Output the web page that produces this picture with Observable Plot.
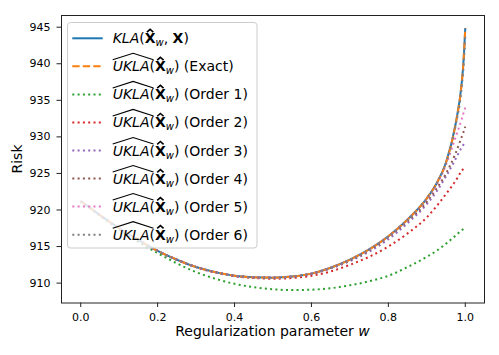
<!DOCTYPE html>
<html><head><meta charset="utf-8">
<script src="https://cdn.jsdelivr.net/npm/d3@7"></script>
<script src="https://cdn.jsdelivr.net/npm/@observablehq/plot@0.6"></script>
<style>
body{margin:0;background:#fff}
#chart svg{display:block}
</style>
</head><body><div id="chart"></div>
<script>
// ---- data ----
const w = [0, 0.05, 0.1, 0.15, 0.2, 0.25, 0.3, 0.35, 0.4, 0.45, 0.5, 0.55, 0.6, 0.65, 0.7, 0.75, 0.8, 0.85, 0.9, 0.925, 0.95, 0.975, 0.99, 0.995, 1.0];
const kla    = [921.2, 919.3, 917.5, 915.9, 914.4, 913.2, 912.2, 911.5, 911.0, 910.8, 910.75, 910.9, 911.3, 912.1, 913.2, 914.6, 916.4, 918.7, 921.6, 923.6, 926.5, 931.8, 937.0, 940.0, 944.9];
const exact  = [921.2, 919.3, 917.5, 915.9, 914.4, 913.2, 912.2, 911.5, 911.0, 910.8, 910.75, 910.9, 911.3, 912.1, 913.2, 914.6, 916.4, 918.7, 921.6, 923.6, 926.5, 931.8, 937.0, 940.0, 944.9];
const order1 = [921.2, 919.2, 917.3, 915.6, 914.1, 912.7, 911.5, 910.6, 909.9, 909.45, 909.15, 909.05, 909.1, 909.3, 909.7, 910.25, 911.0, 912.2, 913.6, 914.4, 915.4, 916.5, 917.2, 917.4, 917.6];
const order2 = [921.2, 919.3, 917.5, 915.9, 914.4, 913.2, 912.2, 911.45, 910.95, 910.7, 910.6, 910.7, 911.0, 911.6, 912.5, 913.6, 915.0, 916.8, 919.0, 920.5, 922.2, 924.0, 925.3, 925.65, 926.0];
const order3 = [921.2, 919.3, 917.5, 915.9, 914.4, 913.2, 912.2, 911.5, 911.0, 910.8, 910.75, 910.85, 911.25, 912.0, 913.0, 914.3, 916.0, 918.2, 920.8, 922.5, 924.6, 927.0, 928.5, 928.9, 929.3];
const order4 = [921.2, 919.3, 917.5, 915.9, 914.4, 913.2, 912.2, 911.5, 911.0, 910.8, 910.75, 910.9, 911.3, 912.1, 913.1, 914.5, 916.3, 918.5, 921.1, 922.9, 925.0, 927.8, 929.9, 930.6, 931.4];
const order5 = [921.2, 919.3, 917.5, 915.9, 914.4, 913.2, 912.2, 911.5, 911.0, 910.8, 910.75, 910.9, 911.3, 912.1, 913.2, 914.6, 916.4, 918.7, 921.5, 923.4, 926.2, 930.0, 932.3, 933.2, 934.0];
const order6 = [921.2, 919.3, 917.5, 915.9, 914.4, 913.2, 912.2, 911.5, 911.0, 910.8, 910.75, 910.9, 911.3, 912.1, 913.2, 914.6, 916.4, 918.7, 921.6, 923.6, 926.5, 931.6, 936.4, 939.3, 943.8];
const orderLabels = ["(Exact)", "(Order 1)", "(Order 2)", "(Order 3)", "(Order 4)", "(Order 5)", "(Order 6)"];
const xTicks = [0, 0.2, 0.4, 0.6, 0.8, 1.0];
const yTicks = [910, 915, 920, 925, 930, 935, 940, 945];
const xLabel = "Regularization parameter ";
const yLabel = "Risk";

// ---- styles ----
const seriesValues = [kla, exact, order1, order2, order3, order4, order5, order6];
const colors = ["#1f77b4", "#ff7f0e", "#2ca02c", "#d62728", "#9467bd", "#8c564b", "#e377c2", "#7f7f7f"];
const dashFor = i => i === 0 ? null : (i === 1 ? "7.3,3.2" : "2,3.3");
const FONT = "'DejaVu Sans', sans-serif";

const marks = seriesValues.map((vals, i) => Plot.line(w.map((x, j) => ({x, y: vals[j]})), {
  x: "x", y: "y", stroke: colors[i], strokeWidth: 2,
  strokeDasharray: dashFor(i), strokeLinecap: "butt", strokeLinejoin: "round",
  curve: "monotone-x"
}));

const chart = Plot.plot({
  width: 499, height: 355,
  marginLeft: 61, marginRight: 15, marginTop: 15, marginBottom: 52.5,
  style: {fontFamily: FONT, fontSize: "11px", color: "#000", background: "#fff"},
  x: {domain: [-0.05, 1.05]},
  y: {domain: [907.28, 946.6]},
  marks: [
    ...marks,
    Plot.axisX({ticks: xTicks, tickFormat: d3.format(".1f"), tickSize: 4.5, tickPadding: 5.5, label: null, stroke: "#222", fill: "#000", fontSize: 11}),
    Plot.axisY({ticks: yTicks, tickFormat: d3.format("d"), tickSize: 4.5, tickPadding: 6.5, label: null, stroke: "#222", fill: "#000", fontSize: 11}),
    Plot.frame({stroke: "#222", strokeWidth: 1})
  ]
});
document.getElementById("chart").appendChild(chart);

const svg = d3.select(chart);
// axis labels
const xl = svg.append("text").attr("x", 272.5).attr("y", 336).attr("text-anchor", "middle")
  .attr("font-family", FONT).attr("font-size", 14).attr("fill", "#000");
xl.append("tspan").text(xLabel);
xl.append("tspan").attr("font-style", "italic").text("w");
svg.append("text").attr("transform", "translate(21.5,159) rotate(-90)").attr("text-anchor", "middle")
  .attr("font-family", FONT).attr("font-size", 14).attr("fill", "#000").text(yLabel);

// legend
const lg = svg.append("g").attr("font-family", FONT).attr("text-anchor", "start");
lg.append("rect").attr("x", 67.5).attr("y", 22.5).attr("width", 189.5).attr("height", 225.5).attr("rx", 3)
  .attr("fill", "#fff").attr("fill-opacity", 0.8).attr("stroke", "#cccccc").attr("stroke-width", 1);

function hat(x0, x1, yb, yt, sw) {
  const xm = (x0 + x1) / 2;
  lg.append("path").attr("d", `M${x0},${yb} L${xm},${yt} L${x1},${yb}`)
    .attr("fill", "none").attr("stroke", "#000").attr("stroke-width", sw).attr("stroke-linejoin", "miter");
}

for (let i = 0; i < 8; i++) {
  const base = 43.3 + 28.05 * i;
  const cy = base - 5;
  lg.append("line").attr("x1", 72.3).attr("x2", 102.7).attr("y1", cy).attr("y2", cy)
    .attr("stroke", colors[i]).attr("stroke-width", 2).attr("stroke-dasharray", dashFor(i));
  const t = lg.append("text").attr("x", 112.7).attr("y", base).attr("font-size", 14)
    .attr("fill", "#000").attr("text-anchor", "start");
  let idx = 0;
  if (i === 0) {
    t.append("tspan").attr("font-style", "italic").text("KLA"); idx += 3;
    t.append("tspan").text("("); idx += 1;
    const xi = idx;
    t.append("tspan").attr("font-weight", "bold").text("X"); idx += 1;
    t.append("tspan").attr("font-style", "italic").attr("font-size", 10).attr("dy", 3).text("w"); idx += 1;
    t.append("tspan").attr("dy", -3).text(", "); idx += 2;
    t.append("tspan").attr("font-weight", "bold").text("X"); idx += 1;
    t.append("tspan").text(")");
    const n = t.node();
    const a = n.getStartPositionOfChar(xi).x, b = n.getEndPositionOfChar(xi).x;
    const c = (a + b) / 2;
    hat(c - 3.2, c + 3.2, base - 11.2, base - 14, 1.6);
  } else {
    t.append("tspan").attr("font-style", "italic").text("UKLA"); idx += 4;
    t.append("tspan").text("("); idx += 1;
    const xi = idx;
    t.append("tspan").attr("font-weight", "bold").text("X"); idx += 1;
    t.append("tspan").attr("font-style", "italic").attr("font-size", 10).attr("dy", 3).text("w"); idx += 1;
    t.append("tspan").attr("dy", -3).text(") " + orderLabels[i - 1]);
    const n = t.node();
    const s = n.getStartPositionOfChar(0).x, e = n.getEndPositionOfChar(3).x;
    hat(s, e + 4, base - 11.5, base - 18, 1.1);
    const a = n.getStartPositionOfChar(xi).x, b = n.getEndPositionOfChar(xi).x;
    const c = (a + b) / 2;
    hat(c - 3.2, c + 3.2, base - 11.2, base - 14, 1.6);
  }
}
</script>
</body></html>
